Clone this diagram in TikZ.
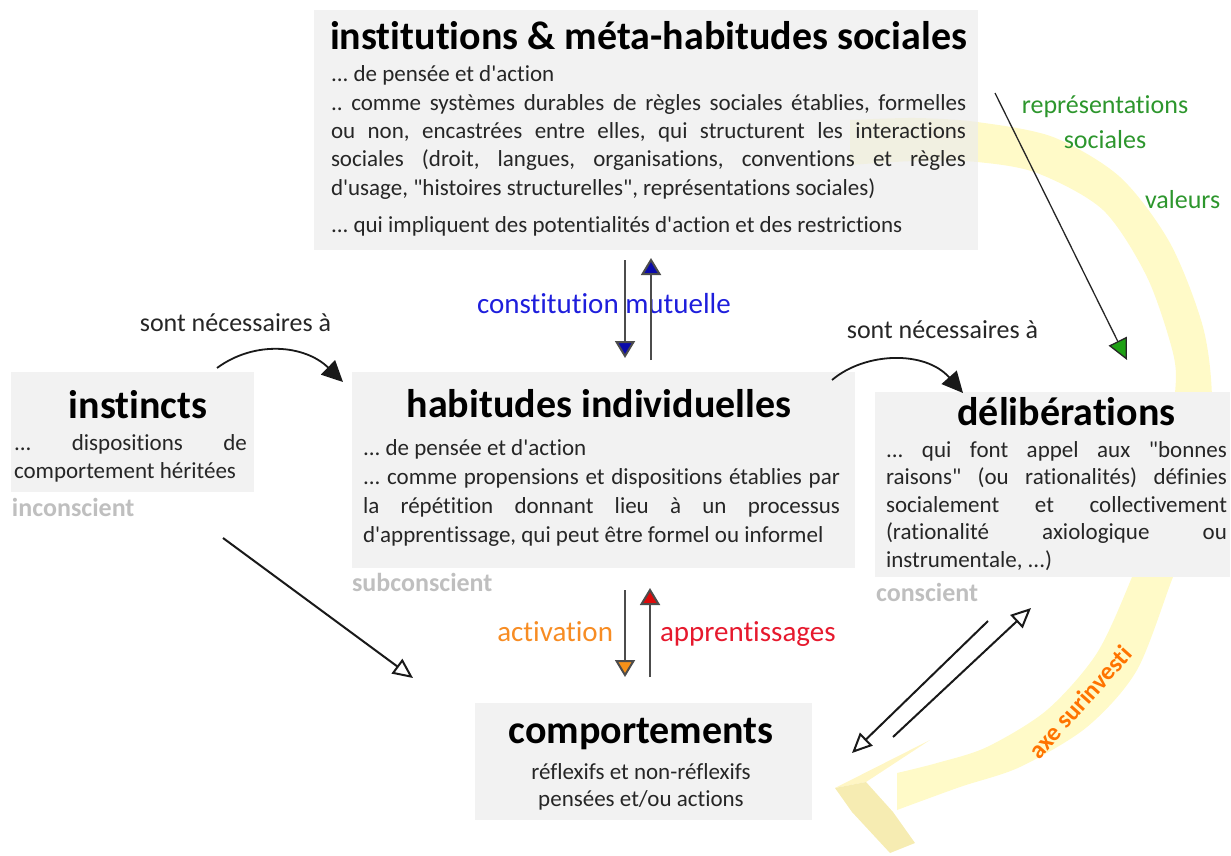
\documentclass[tikz,border=0pt]{standalone}
\usepackage{fontspec}
\newfontfamily\carl{Carlito}[Ligatures=CommonOff]
\usetikzlibrary{arrows.meta}
\frenchspacing
\definecolor{boxgray}{RGB}{242,242,242}
\definecolor{boxgrayT}{RGB}{236,236,236}
\definecolor{bodytxt}{RGB}{38,38,38}
\definecolor{lightlab}{RGB}{191,191,191}
\definecolor{bluetxt}{RGB}{30,30,220}
\definecolor{bluehead}{RGB}{10,10,170}
\definecolor{orangetxt}{RGB}{247,140,35}
\definecolor{orangehead}{RGB}{245,145,25}
\definecolor{redtxt}{RGB}{230,25,45}
\definecolor{redhead}{RGB}{220,10,10}
\definecolor{greentxt}{RGB}{45,150,45}
\definecolor{greenhead}{RGB}{30,160,20}
\definecolor{axetxt}{RGB}{255,115,0}
\definecolor{bandyel}{RGB}{255,250,200}
\definecolor{bandlight}{RGB}{255,246,196}
\definecolor{banddark}{RGB}{246,236,178}
\newcommand\jl[1]{\makebox[\linewidth][s]{#1}\par}
\begin{document}
\frenchspacing
\begin{tikzpicture}[x=1pt,y=-1pt,
  every node/.style={inner sep=0pt, outer sep=0pt},
  box/.style={fill=boxgray, draw=none},
  ttl/.style={font=\carl\bfseries\fontsize{40}{48}\selectfont, text=black, anchor=base},
  bodyt/.style={font=\carl\frenchspacing\fontsize{23}{28.3}\selectfont, text=bodytxt, anchor=base west},
  lab/.style={font=\carl\fontsize{26}{31}\selectfont, text=bodytxt, anchor=base},
  clab/.style={font=\carl\fontsize{29}{35}\selectfont, anchor=base},
  lvl/.style={font=\carl\bfseries\fontsize{26}{31}\selectfont, text=lightlab, anchor=base west},
  blk/.style={draw=black!90, line width=1.8pt, -{Triangle[width=20pt,length=21pt]}},
  vert/.style={draw=black!70, line width=2pt},
  opn/.style={draw=black!90, line width=2pt, -{Triangle[open,width=18pt,length=20pt,fill=white]}},
]
\useasboundingbox (0,0) rectangle (1231,856);

% yellow band
\fill[bandyel] plot[smooth] coordinates {(850,120) (915,118) (977,122) (1053,137) (1120,177) (1170,243) (1203,327) (1212,400) (1205,480) (1192,535) (1173,577) (1137,670) (1087,727) (1020,767) (960,787) (897,810)}
  -- plot[smooth] coordinates {(897,773) (937,763) (987,747) (1047,710) (1097,653) (1132,577) (1150,525) (1164,460) (1175,393) (1173,353) (1147,277) (1103,210) (1037,173) (977,162) (915,161) (850,165)} -- cycle;
\fill[bandlight] (930,740) -- (835,788) -- (866,782) -- cycle;
\fill[banddark] (835,788) -- (852,812) -- (890,853) -- (915,843) -- (893,812) -- (866,782) -- cycle;

% boxes
\node[fill=boxgrayT, fill opacity=0.7, minimum width=664pt, minimum height=240pt] (instbox) at (646,130) {};
\node[box, minimum width=243pt, minimum height=120pt] (instinctbox) at (132.5,432) {};
\node[box, minimum width=503pt, minimum height=196pt] (habbox) at (603.5,470) {};
\node[box, minimum width=355pt, minimum height=185pt] (delbox) at (1052.5,484.5) {};
\node[box, minimum width=337pt, minimum height=117pt] (compbox) at (643.5,761.5) {};

% titles
\node[ttl] (instT) at (648.5,50) {institutions \& méta-habitudes sociales};
\node[ttl] (instinctT) at (138,418) {instincts};
\node[ttl] (habT) at (599,417) {habitudes individuelles};
\node[ttl] (delT) at (1066.5,425) {délibérations};
\node[ttl] (compT) at (641,743) {comportements};

% bodies
\node[bodyt] (instB) at (331,82) {\parbox[t]{635pt}{\frenchspacing ... de pensée et d'action\par
\jl{.. comme systèmes durables de règles sociales établies, formelles}
\jl{ou non, encastrées entre elles, qui structurent les interactions}
\jl{sociales (droit, langues, organisations, conventions et règles}
d'usage, "histoires structurelles", représentations sociales)\par
\vspace{9pt}... qui impliquent des potentialités d'action et des restrictions}};
\node[bodyt] (instinctB) at (14,450) {\parbox[t]{233pt}{\frenchspacing\jl{... dispositions de}comportement héritées}};
\node[bodyt, font=\carl\fontsize{23}{29}\selectfont] (habB) at (363,455) {\parbox[t]{477pt}{\frenchspacing ... de pensée et d'action\par
\jl{... comme propensions et dispositions établies par}
\jl{la répétition donnant lieu à un processus}
d'apprentissage, qui peut être formel ou informel}};
\node[bodyt, font=\carl\fontsize{23}{27.6}\selectfont] (delB) at (886,457) {\parbox[t]{341pt}{\frenchspacing\jl{... qui font appel aux "bonnes}
\jl{raisons" (ou rationalités) définies}
\jl{socialement et collectivement}
\jl{(rationalité axiologique ou}
instrumentale, ...)}};
\node[bodyt, font=\carl\fontsize{23}{27}\selectfont, anchor=base] (compB) at (641,779) {\parbox[t]{320pt}{\centering réflexifs et non-réflexifs\\pensées et/ou actions}};

% level labels
\node[lvl] (incon) at (12,516) {inconscient};
\node[lvl] (subc) at (352,591) {subconscient};
\node[lvl] (consc) at (876,601) {conscient};

% connector labels
\node[lab] (sn1) at (235.5,331) {sont nécessaires à};
\node[lab] (sn2) at (942.5,338) {sont nécessaires à};
\node[clab, text=bluetxt, anchor=base west] (cm) at (477,313) {constitution mutuelle};
\node[clab, text=orangetxt, anchor=base east] (act) at (613,641) {activation};
\node[clab, text=redtxt, anchor=base west] (app) at (660,641) {apprentissages};
\node[lab, text=greentxt] (rep1) at (1105,114) {représentations};
\node[lab, text=greentxt] (rep2) at (1105,148) {sociales};
\node[lab, text=greentxt, anchor=base west] (val) at (1145,208) {valeurs};
\node[font=\carl\bfseries\fontsize{25}{30}\selectfont, text=axetxt, rotate=48] (axe) at (1080,702) {axe surinvesti};

% connector end points
\coordinate (a1s) at (217,368); \coordinate (a1e) at (343,382);
\coordinate (a2s) at (832,380); \coordinate (a2e) at (963,393);
\coordinate (cd1) at (625,260); \coordinate (cd2) at (625,358);
\coordinate (cu1) at (651,360); \coordinate (cu2) at (651,258);
\coordinate (ad1) at (625,590); \coordinate (ad2) at (625,677);
\coordinate (au1) at (650,677); \coordinate (au2) at (650,588);
\coordinate (r1) at (995,93); \coordinate (r2) at (1127,360);
\coordinate (ic1) at (223,538); \coordinate (ic2) at (413,678);
\coordinate (dc1) at (988,621); \coordinate (dc2) at (852,753);
\coordinate (cd3) at (893,737); \coordinate (cd4) at (1031,608);

% connectors
\draw[blk] (a1s) .. controls (255,340) and (305,345) .. (a1e);
\draw[blk] (a2s) .. controls (865,352) and (925,350) .. (a2e);
\draw[vert, -{Triangle[width=20pt,length=17pt,fill=bluehead]}] (cd1) -- (cd2);
\draw[vert, -{Triangle[width=20pt,length=17pt,fill=bluehead]}] (cu1) -- (cu2);
\draw[vert, -{Triangle[width=20pt,length=17pt,fill=orangehead]}] (ad1) -- (ad2);
\draw[vert, -{Triangle[width=20pt,length=17pt,fill=redhead]}] (au1) -- (au2);
\draw[draw=black!85, line width=1.3pt, -{Triangle[width=20pt,length=21pt,fill=greenhead]}] (r1) -- (r2);
\draw[opn] (ic1) -- (ic2);
\draw[opn] (dc1) -- (dc2);
\draw[opn] (cd3) -- (cd4);
\end{tikzpicture}
\end{document}
